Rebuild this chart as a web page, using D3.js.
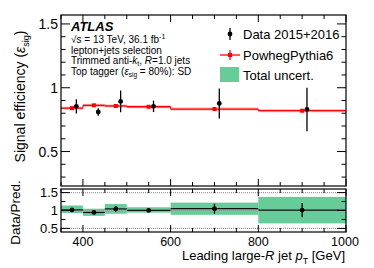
<!DOCTYPE html>
<html lang="en">
<head>
    <meta charset="utf-8">
    <title>D3: Signal efficiency vs large-R jet pT</title>
    <script type="text/javascript" src="https://d3js.org/d3.v7.min.js"></script>
    <style>
        body { margin: 0; background: #fff; }
        text { font-family: "Liberation Sans", Arial, sans-serif; }
    </style>
</head>
<body>
    <script type="text/javascript">

        // Bin edges in leading large-R jet pT [GeV]
        var binLo = [350, 400, 450, 500, 600, 800];
        var binHi = [400, 450, 500, 600, 800, 1000];

        // Data points (slightly displaced in x), efficiency and error
        var dataX = [385, 435, 486, 561, 711, 911];
        var dataEff = [0.854, 0.810, 0.893, 0.854, 0.877, 0.830];
        var dataErr = [0.055, 0.030, 0.085, 0.045, 0.118, 0.170];

        // PowhegPythia6 prediction
        var mcEff = [0.840, 0.862, 0.857, 0.851, 0.833, 0.820];

        // Ratio panel
        var ratioVal = [1.017, 0.945, 1.045, 1.003, 1.050, 1.012];
        var ratioErr = [0.030, 0.020, 0.080, 0.020, 0.140, 0.200];
        var bandLo = [0.93, 0.85, 0.91, 0.94, 0.88, 0.64];
        var bandHi = [1.14, 1.05, 1.18, 1.09, 1.22, 1.38];

        var xTicks = [400, 600, 800, 1000];
        var yTicks = [0.5, 1, 1.5];
        var rTicks = [0.5, 1, 1.5];

        var W = 374, H = 268;
        var L = 61, R = 346;
        var mainTop = 15, mainBot = 186;
        var ratTop = 189, ratBot = 232;

        var svg = d3.select("body").append("svg")
            .attr("width", W)
            .attr("height", H);

        var x = d3.scaleLinear().domain([350, 1000]).range([L, R]);
        var y = d3.scaleLinear().domain([0.23, 1.57]).range([mainBot, mainTop]);
        var yr = d3.scaleLinear().domain([0.4, 1.6]).range([ratBot, ratTop]);

        var green = "#66cc99";

        // ---------- main panel ----------
        // MC lines (light halo + solid red)
        binLo.forEach(function(lo, i) {
            svg.append("line")
                .attr("x1", x(lo)).attr("x2", x(binHi[i]))
                .attr("y1", y(mcEff[i])).attr("y2", y(mcEff[i]))
                .attr("stroke", "#ffb0b0").attr("stroke-width", 3);
            svg.append("line")
                .attr("x1", x(lo)).attr("x2", x(binHi[i]))
                .attr("y1", y(mcEff[i])).attr("y2", y(mcEff[i]))
                .attr("stroke", "#ff0000").attr("stroke-width", 1.3);
            svg.append("rect")
                .attr("x", x((lo + binHi[i]) / 2) - 2).attr("y", y(mcEff[i]) - 2)
                .attr("width", 4).attr("height", 4)
                .attr("fill", "#ff0000");
        });
        // small vertical steps between MC bins
        for (var i = 1; i < binLo.length; i++) {
            svg.append("line")
                .attr("x1", x(binLo[i])).attr("x2", x(binLo[i]))
                .attr("y1", y(mcEff[i - 1])).attr("y2", y(mcEff[i]))
                .attr("stroke", "#ff0000").attr("stroke-width", 1);
        }

        // data points
        dataX.forEach(function(dx, i) {
            svg.append("line")
                .attr("x1", x(dx)).attr("x2", x(dx))
                .attr("y1", y(dataEff[i] + dataErr[i])).attr("y2", y(dataEff[i] - dataErr[i]))
                .attr("stroke", "#000").attr("stroke-width", 1.3);
            svg.append("circle")
                .attr("cx", x(dx)).attr("cy", y(dataEff[i]))
                .attr("r", 2.4).attr("fill", "#000");
        });

        // ---------- ratio panel ----------
        binLo.forEach(function(lo, i) {
            svg.append("rect")
                .attr("x", x(lo)).attr("width", x(binHi[i]) - x(lo))
                .attr("y", yr(bandHi[i])).attr("height", yr(bandLo[i]) - yr(bandHi[i]))
                .attr("fill", green);
        });
        [0.5, 1, 1.5].forEach(function(v) {
            svg.append("line")
                .attr("x1", L).attr("x2", R)
                .attr("y1", yr(v)).attr("y2", yr(v))
                .attr("stroke", "#999").attr("stroke-width", 1.2)
                .attr("stroke-dasharray", "1,1");
        });
        binLo.forEach(function(lo, i) {
            var cx = x((lo + binHi[i]) / 2);
            svg.append("line")
                .attr("x1", x(lo)).attr("x2", x(binHi[i]))
                .attr("y1", yr(ratioVal[i])).attr("y2", yr(ratioVal[i]))
                .attr("stroke", "#111").attr("stroke-width", 1.2);
            svg.append("line")
                .attr("x1", cx).attr("x2", cx)
                .attr("y1", yr(ratioVal[i] + ratioErr[i])).attr("y2", yr(ratioVal[i] - ratioErr[i]))
                .attr("stroke", "#000").attr("stroke-width", 1.3);
            svg.append("circle")
                .attr("cx", cx).attr("cy", yr(ratioVal[i]))
                .attr("r", 2.4).attr("fill", "#000");
        });

        // ---------- frames and axes ----------
        function frame(top, bot) {
            svg.append("rect")
                .attr("x", L).attr("y", top)
                .attr("width", R - L).attr("height", bot - top)
                .attr("fill", "none").attr("stroke", "#000").attr("stroke-width", 1.2);
        }
        frame(mainTop, mainBot);
        frame(ratTop, ratBot);

        var g = svg.append("g").attr("stroke", "#000").attr("stroke-width", 1);

        function xTickMarks(top, bot) {
            d3.range(350, 1001, 50).forEach(function(v) {
                var len = (v % 200 === 0) ? 7 : 4;
                g.append("line").attr("x1", x(v)).attr("x2", x(v)).attr("y1", bot).attr("y2", bot - len);
                g.append("line").attr("x1", x(v)).attr("x2", x(v)).attr("y1", top).attr("y2", top + len);
            });
        }
        xTickMarks(mainTop, mainBot);
        xTickMarks(ratTop, ratBot);

        d3.range(0.3, 1.56, 0.1).forEach(function(v) {
            var major = Math.abs(v * 2 - Math.round(v * 2)) < 1e-6;
            var len = major ? 9 : 4.5;
            g.append("line").attr("x1", L).attr("x2", L + len).attr("y1", y(v)).attr("y2", y(v));
            g.append("line").attr("x1", R).attr("x2", R - len).attr("y1", y(v)).attr("y2", y(v));
        });
        d3.range(0.5, 1.51, 0.25).forEach(function(v) {
            var major = Math.abs(v * 2 - Math.round(v * 2)) < 1e-6;
            var len = major ? 9 : 4.5;
            g.append("line").attr("x1", L).attr("x2", L + len).attr("y1", yr(v)).attr("y2", yr(v));
            g.append("line").attr("x1", R).attr("x2", R - len).attr("y1", yr(v)).attr("y2", yr(v));
        });

        // tick labels
        svg.selectAll(".ylab").data(yTicks).enter().append("text")
            .attr("x", L - 3).attr("y", function(d) { return y(d) + 5; })
            .attr("text-anchor", "end").attr("font-size", 14)
            .text(function(d) { return d; });
        svg.selectAll(".rlab").data(rTicks).enter().append("text")
            .attr("x", L - 3).attr("y", function(d) { return yr(d) + 4.5; })
            .attr("text-anchor", "end").attr("font-size", 13)
            .text(function(d) { return d; });
        svg.selectAll(".xlab").data(xTicks).enter().append("text")
            .attr("x", function(d) { return d === 1000 ? x(d) - 1 : x(d); })
            .attr("y", 246).attr("text-anchor", "middle").attr("font-size", 12.5)
            .text(function(d) { return d; });

        // axis titles
        var xt = svg.append("text").attr("x", R - 1).attr("y", 260)
            .attr("text-anchor", "end").attr("font-size", 13);
        xt.append("tspan").text("Leading large-");
        xt.append("tspan").attr("font-style", "italic").text("R");
        xt.append("tspan").text(" jet ");
        xt.append("tspan").attr("font-style", "italic").text("p");
        xt.append("tspan").attr("font-size", 9).attr("dy", 4).text("T");
        xt.append("tspan").attr("dy", -4).text(" [GeV]");

        var yt = svg.append("text").attr("transform", "translate(25," + ((mainTop + mainBot) / 2 - 4) + ") rotate(-90)")
            .attr("text-anchor", "middle").attr("font-size", 14);
        yt.append("tspan").text("Signal efficiency (");
        yt.append("tspan").attr("font-style", "italic").text("\u03b5");
        yt.append("tspan").attr("font-size", 9).attr("dy", 4).text("sig");
        yt.append("tspan").attr("dy", -4).text(")");

        svg.append("text").attr("transform", "translate(20," + ((ratTop + ratBot) / 2 + 2) + ") rotate(-90)")
            .attr("text-anchor", "middle").attr("font-size", 13.5)
            .text("Data/Pred.");

        // ATLAS labels
        svg.append("text").attr("x", 71).attr("y", 31)
            .attr("font-size", 13).attr("font-weight", "bold").attr("font-style", "italic")
            .text("ATLAS");
        var info = svg.append("g").attr("font-size", 10);
        var l1 = info.append("text").attr("x", 71).attr("y", 43);
        l1.append("tspan").text("\u221as = 13 TeV, 36.1 fb");
        l1.append("tspan").attr("font-size", 7).attr("dy", -4).text("-1");
        info.append("text").attr("x", 71).attr("y", 53.5).text("lepton+jets selection");
        var l3 = info.append("text").attr("x", 71).attr("y", 64);
        l3.append("tspan").text("Trimmed anti-");
        l3.append("tspan").attr("font-style", "italic").text("k");
        l3.append("tspan").attr("font-size", 7).attr("dy", 2).text("t");
        l3.append("tspan").attr("dy", -2).text(", ");
        l3.append("tspan").attr("font-style", "italic").text("R");
        l3.append("tspan").text("=1.0 jets");
        var l4 = info.append("text").attr("x", 71).attr("y", 74.5);
        l4.append("tspan").text("Top tagger (");
        l4.append("tspan").attr("font-style", "italic").text("\u03b5");
        l4.append("tspan").attr("font-size", 6.5).attr("dy", 2).text("sig");
        l4.append("tspan").attr("dy", -2).text(" = 80%): SD");

        // legend
        var lg = svg.append("g");
        lg.append("line").attr("x1", 230).attr("x2", 230).attr("y1", 28).attr("y2", 40)
            .attr("stroke", "#000").attr("stroke-width", 1.3);
        lg.append("circle").attr("cx", 230).attr("cy", 34).attr("r", 2.4).attr("fill", "#000");
        lg.append("text").attr("x", 243).attr("y", 38.5).attr("font-size", 13).text("Data 2015+2016");

        lg.append("line").attr("x1", 220).attr("x2", 240).attr("y1", 55).attr("y2", 55)
            .attr("stroke", "#ff0000").attr("stroke-width", 1.3);
        lg.append("line").attr("x1", 230).attr("x2", 230).attr("y1", 50).attr("y2", 60)
            .attr("stroke", "#ff0000").attr("stroke-width", 1.3);
        lg.append("rect").attr("x", 228).attr("y", 53).attr("width", 4).attr("height", 4).attr("fill", "#ff0000");
        lg.append("text").attr("x", 243).attr("y", 59.5).attr("font-size", 13).text("PowhegPythia6");

        lg.append("rect").attr("x", 220).attr("y", 67).attr("width", 19).attr("height", 15).attr("fill", green);
        lg.append("text").attr("x", 243).attr("y", 80).attr("font-size", 13).text("Total uncert.");

    </script>
</body>
</html>
